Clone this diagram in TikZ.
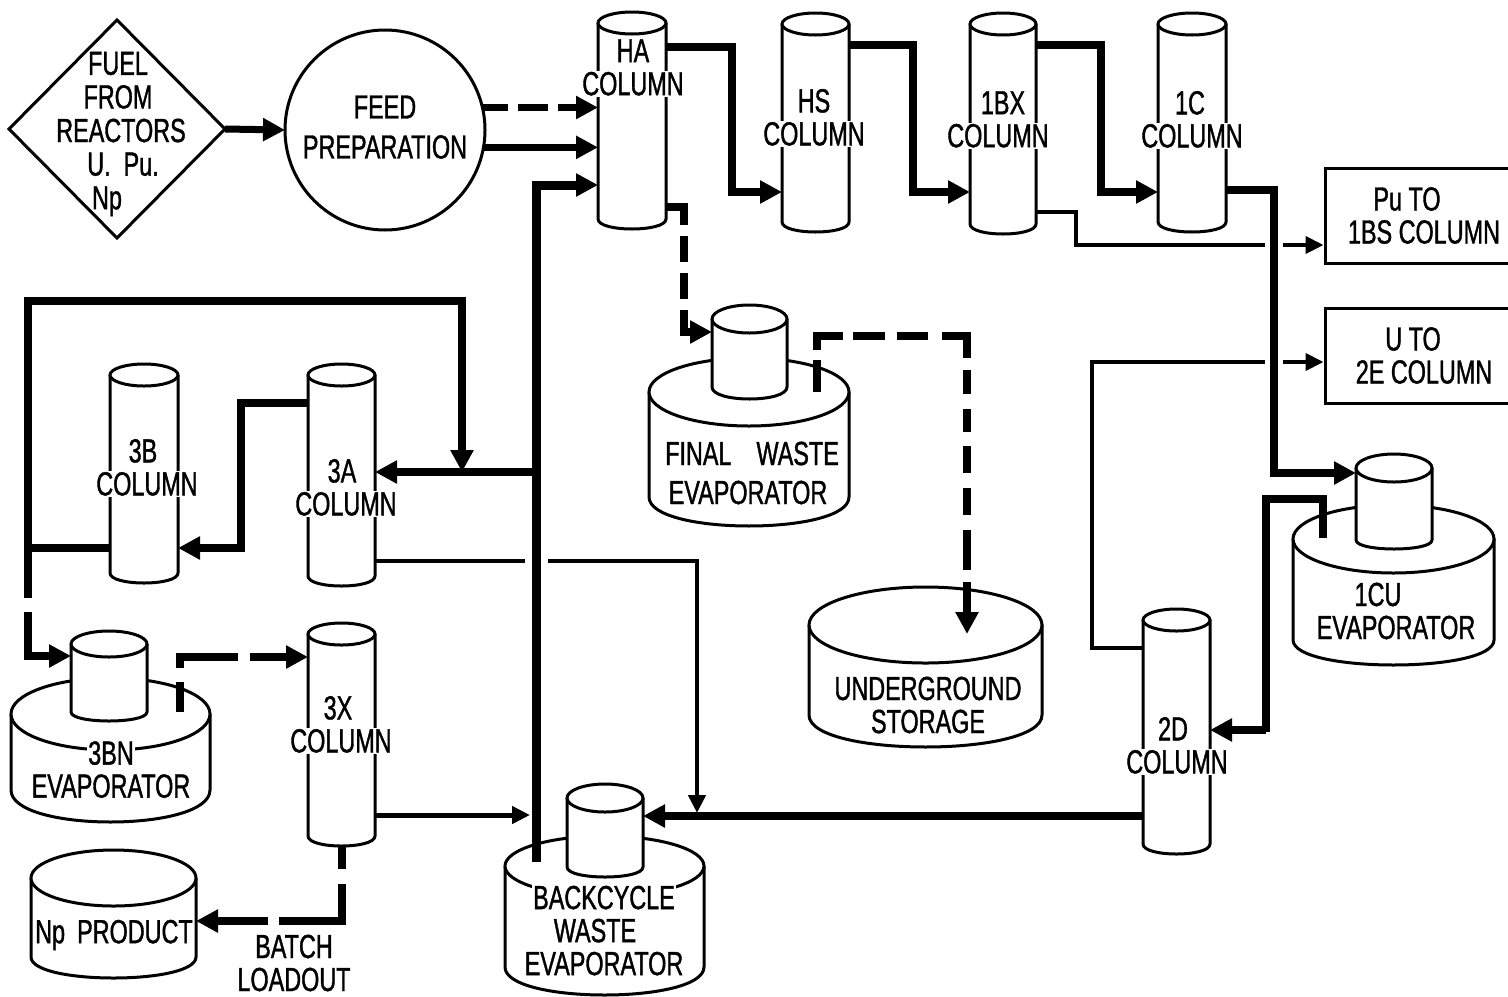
\documentclass[tikz,border=0pt]{standalone}
\usepackage{fontspec}
\setmainfont{Liberation Sans}[FakeStretch=0.70,FakeBold=1.1]
\usetikzlibrary{arrows.meta,shapes.geometric}
\setlength{\fboxsep}{0.6pt}
\newcommand\wb[1]{\colorbox{white}{#1}}
\tikzset{
  outline/.style={draw=black,fill=white,line width=1.5pt,line join=round},
  lbl/.style={inner sep=0pt,align=center,font=\fontsize{16.7}{16.5}\selectfont},
  flow/.style={draw=black,line join=miter,-{Triangle[length=11pt,width=11pt]}},
  thinflow/.style={draw=black,line join=miter,-{Triangle[length=9pt,width=8.5pt]}},
  plain/.style={draw=black,line join=miter},
  fat/.style={line width=4pt},
  mid/.style={line width=3.5pt},
  slim/.style={line width=2pt}
}
% name, xL, xR, yTop, yBottom, ry top, ry bottom (all in reference pixels)
\newcommand\mycyl[7]{%
  \pgfmathsetmacro\cxc{(#2+#3)/2}%
  \pgfmathsetmacro\crx{(#3-#2)/2}%
  \pgfmathsetmacro\cyb{#5+1.333*#7}%
  \pgfmathsetmacro\cyc{(#4+#5)/2}%
  \pgfmathsetmacro\cnh{(#5-#4)/2}%
  \path[outline] (#2,#4) -- (#2,#5) .. controls (#2,\cyb) and (#3,\cyb) .. (#3,#5) -- (#3,#4) -- cycle;
  \path[outline] (\cxc,#4) ellipse [x radius=\crx, y radius=#6];
  \node[inner sep=0pt,outer sep=0pt,minimum width=\crx pt,minimum height=\cnh pt] (#1) at (\cxc,\cyc) {};
}
\begin{document}
\begin{tikzpicture}[x=0.5pt,y=-0.5pt]
\useasboundingbox (0,0) rectangle (1508,996);
\clip (0,0) rectangle (1508,996);
\fill[white] (0,0) rectangle (1508,996);

% feed
\node[draw=black,line width=1.5pt,diamond,aspect=1,inner sep=0pt,outer sep=0pt,minimum width=108pt,minimum height=109pt] (fuel) at (117,129) {};
\node[lbl] (fueltext) at (118,134) {FUEL\\[0.3pt]FROM\\[0.3pt]\hspace*{3pt}REACTORS\\[0.3pt]\hspace*{5pt}U.\ \ Pu.\\[0.3pt]Np\hspace*{11pt}};
\node[draw=black,line width=1.5pt,circle,inner sep=0pt,outer sep=0pt,minimum size=100pt,align=center,font=\fontsize{16.7}{16.5}\selectfont] (feed) at (385,130) {FEED\\[3.5pt]PREPARATION\rule[-3pt]{0pt}{0pt}};

% columns
\mycyl{ha}{598}{666}{23}{219}{11}{10}
\mycyl{hs}{782}{849}{24}{222}{11}{10}
\mycyl{bx}{970}{1036}{24}{224}{11}{10}
\mycyl{ic}{1158}{1226}{24}{222}{11}{10}
\mycyl{b3}{110}{178}{375}{573}{11}{10}
\mycyl{a3}{308}{375}{375}{576}{11}{10}
\mycyl{x3}{308}{375}{634}{836}{11}{10}
\mycyl{d2}{1143}{1210}{620}{844}{11}{10}

% vessels
\mycyl{fwbody}{649}{849}{392}{497}{34}{29}
\mycyl{fw}{712}{787}{319}{387}{14}{12}
\mycyl{cubody}{1293}{1494}{539}{640}{34}{25}
\mycyl{cu}{1356}{1432}{468}{540}{14}{9}
\mycyl{ug}{809}{1042}{625}{715}{38}{32}
\mycyl{bnbody}{11}{210}{714}{790}{36}{32}
\mycyl{bn}{71}{147}{644}{712}{13}{9}
\mycyl{np}{31}{196}{878}{957}{28}{21}
\mycyl{bwbody}{505}{704}{866}{967}{30}{28}
\mycyl{bw}{567}{643}{798}{867}{14}{10}

% boxes
\node[draw=black,line width=1.5pt,fill=white,inner sep=0pt,minimum width=99pt,minimum height=47.5pt,lbl,inner sep=0pt] (pu) at (1424,215.5) {Pu TO\hspace*{17pt}\\1BS COLUMN};
\node[draw=black,line width=1.5pt,fill=white,inner sep=0pt,minimum width=99pt,minimum height=47.5pt,lbl,inner sep=0pt] (u2e) at (1424,355.5) {U TO\hspace*{11pt}\\2E COLUMN};

% free ends
\coordinate (puA) at (1265,245);
\coordinate (puB) at (1283,245);
\coordinate (uA) at (1265,362);
\coordinate (uB) at (1283,362);
\coordinate (bkA) at (525,561);
\coordinate (bkB) at (548,561);
\coordinate (jB) at (536,472);
\coordinate (jL) at (28,548);
\coordinate (jT) at (462,472);
\coordinate (ugin) at (967,634);

% connectors
\draw[flow,mid] (fuel.east) -- (feed.west);
\draw[flow,mid,dash pattern=on 13pt off 5pt on 15pt off 5pt on 30pt off 5pt] (feed.13) -- (ha.west |- feed.13);
\draw[flow,mid] (feed.-10) -- (ha.west |- feed.-10);
\draw[flow,fat] (ha.east |- 0,47) -- (732,47) -- (732,192) -- (hs.west |- 0,192);
\draw[flow,fat] (hs.east |- 0,45) -- (913,45) -- (913,192) -- (bx.west |- 0,192);
\draw[flow,fat] (bx.east |- 0,45) -- (1101,45) -- (1101,192) -- (ic.west |- 0,192);
\draw[flow,fat] (ic.east |- 0,190) -- (1274,190) -- (1274,473) -- (cu.west |- 0,473);
\draw[plain,slim] (bx.east |- 0,212) -- (1076,212) -- (1076,245) -- (puA);
\draw[thinflow,slim] (puB) -- (pu.west |- puB);
\draw[plain,slim] (d2.west |- 0,648) -- (1092,648) -- (1092,362) -- (uA);
\draw[thinflow,slim] (uB) -- (u2e.west |- uB);
\draw[flow,fat,dash pattern=on 18pt off 5.5pt on 13pt off 5.5pt on 13pt off 5.5pt on 30pt off 5.5pt] (ha.east |- 0,207) -- (684,207) -- (684,332) -- (fw.west |- 0,332);
\draw[flow,fat,dash pattern=on 16pt off 5pt on 20pt off 5pt on 16pt off 6pt on 15.5pt off 7pt on 23.5pt off 6pt on 12pt off 7.5pt on 11.5pt off 7pt on 13.5pt off 7.5pt on 13.5pt off 7.5pt on 20pt off 6pt on 30pt off 5pt] (817,392) -- (817,336) -- (967,336) -- (ugin);
\draw[plain,fat] (cu.west |- 0,538) ++(-33,0) -- ++(0,-39) -- (1266,499) -- (1266,732);
\draw[flow,fat] (1266,730) -- (d2.east |- 0,730);
\draw[flow,fat] (d2.west |- 0,816) -- (bw.east |- 0,816);
\draw[plain,line width=2.3pt] (a3.east |- bkA) -- (bkA);
\draw[thinflow,line width=2.3pt] (bkB) -- (697,561) -- (697,813);
\draw[flow,line width=4.5pt] (536,862) -- (536,185) -- (ha.west |- 0,185);
\draw[flow,fat] (jB) -- (a3.east |- jB);
\draw[thinflow,line width=2.5pt] (x3.east |- 0,815) -- (530,815);
\draw[flow,fat] (a3.west |- 0,403) -- (241,403) -- (241,548) -- (b3.east |- 0,548);
\draw[plain,fat] (b3.west |- jL) -- (jL);
\draw[flow,line width=3.8pt] (28,598) -- (28,301) -- (462,301) -- (jT);
\draw[flow,fat] (28,612) -- (28,656) -- (bn.west |- 0,656);
\draw[flow,fat,dash pattern=on 15pt off 7pt on 34.5pt off 6pt on 40pt off 5pt] (180,712) -- (180,657) -- (x3.west |- 0,657);
\draw[flow,fat,dash pattern=on 11.5pt off 7.5pt on 50pt off 5.5pt on 40pt off 5pt] (x3.south |- 0,846) -- (x3.south |- 0,921) -- (np.east |- 0,921);

% labels
\node[lbl] (hatext) at (633,68) {HA\\\wb{COLUMN}};
\node[lbl] (hstext) at (814,118) {HS\\\wb{COLUMN}};
\node[lbl] (bxtext) at (998,120) {\hspace*{5pt}1BX\\\wb{COLUMN}};
\node[lbl] (ictext) at (1192,120) {1C\hspace*{2pt}\\\wb{COLUMN}};
\node[lbl] (b3text) at (147,468) {3B\hspace*{4pt}\\\wb{COLUMN}};
\node[lbl] (a3text) at (346,488) {3A\hspace*{4pt}\\\wb{COLUMN}};
\node[lbl] (x3text) at (341,725) {3X\hspace*{3pt}\\\wb{COLUMN}};
\node[lbl] (d2text) at (1177,746) {2D\hspace*{4pt}\\\wb{COLUMN}};
\node[lbl] (fwtext) at (752,473) {FINAL\ \ \ \,WASTE\\[3pt]\mbox{EVAPORATOR\kern4pt}};
\node[lbl] (cutext) at (1396,611) {1CU\hspace*{18pt}\\EVAPORATOR};
\node[lbl] (ugtext) at (928,705) {UNDERGROUND\\STORAGE};
\node[lbl] (bntext) at (111,769) {\wb{3BN}\\EVAPORATOR};
\node[lbl] (nptext) at (114,935) {Np\ \,PRODUCT};
\node[lbl] (bwtext) at (604,930) {\wb{BACKCYCLE}\\\mbox{WASTE\kern9pt}\\EVAPORATOR};
\node[lbl] (batch) at (294,963) {BATCH\\LOADOUT};
\end{tikzpicture}
\end{document}
